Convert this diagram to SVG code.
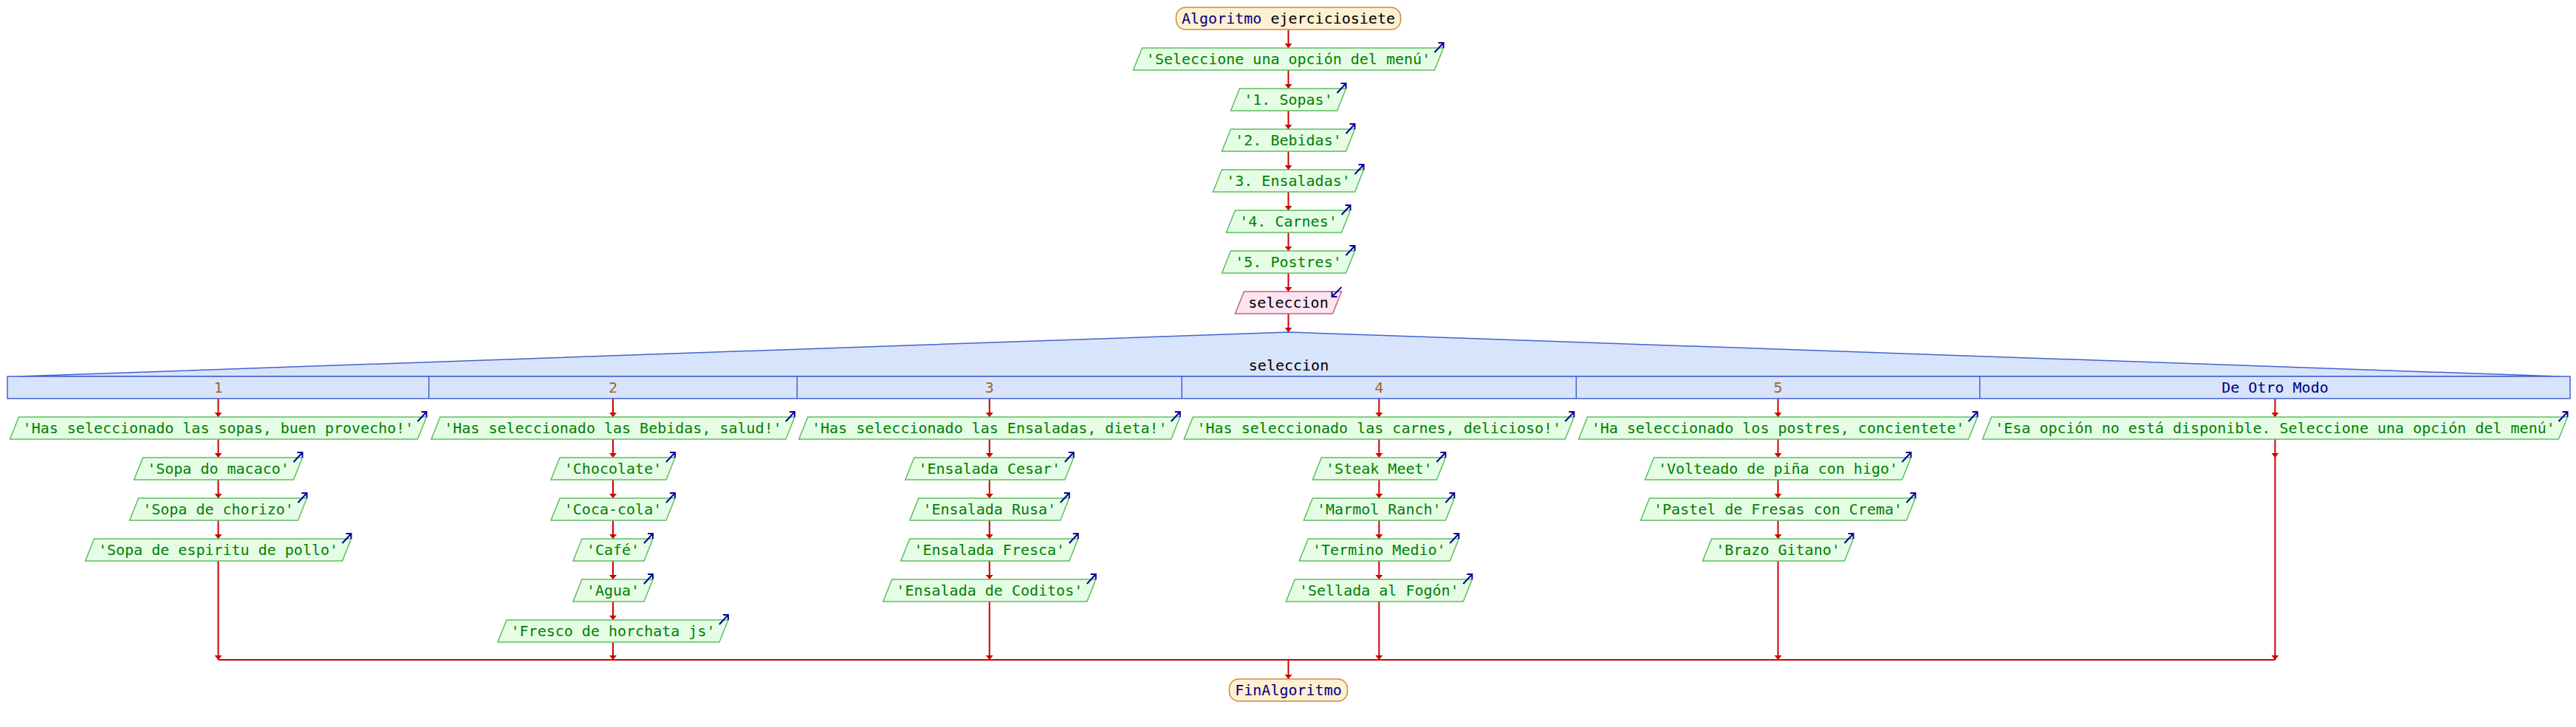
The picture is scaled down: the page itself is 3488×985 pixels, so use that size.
<svg xmlns="http://www.w3.org/2000/svg" width="3488" height="985" viewBox="0 0 3488 985">
<style>
text{font-family:"DejaVu Sans Mono","Liberation Mono",monospace;font-size:20px;text-anchor:middle}
.out polygon{fill:#e5fde5;stroke:#5cbf5c;stroke-width:1.5}
.out text{fill:#008000}
.inp polygon{fill:#ffe4f0;stroke:#c06080;stroke-width:1.5}
.inp text{fill:#000}
.term rect{fill:#fff0d4;stroke:#cc8a3a;stroke-width:1.5}
.kw{fill:#000080}
.ico{fill:none;stroke:#000099;stroke-width:2}
.sw{fill:#d8e4fc;stroke:#4362cf;stroke-width:1.5}
.sep{stroke:#4362cf;stroke-width:1.5}
.case{fill:#a06428}
.other{fill:#000080}
#connectors path{fill:none;stroke:#cc0000;stroke-width:2}
#connectors path.a{marker-end:url(#ah)}
</style>
<defs>
<marker id="ah" markerUnits="userSpaceOnUse" markerWidth="7" markerHeight="10" refX="6" refY="5" orient="auto">
<path d="M0,0 L6,5 L0,10 z" fill="#cc0000"/>
</marker>
</defs>
<rect width="3488" height="985" fill="#fff"/>

<g id="connectors">
<path class="a" d="M1744.5,40 V65"/>
<path class="a" d="M1744.5,95 V120"/>
<path class="a" d="M1744.5,150 V175"/>
<path class="a" d="M1744.5,205 V230"/>
<path class="a" d="M1744.5,260 V285"/>
<path class="a" d="M1744.5,315 V340"/>
<path class="a" d="M1744.5,370 V395"/>
<path class="a" d="M1744.5,425 V450"/>
<path class="a" d="M295.5,540 V565"/>
<path class="a" d="M295.5,595 V620"/>
<path class="a" d="M295.5,650 V675"/>
<path class="a" d="M295.5,705 V730"/>
<path class="a" d="M295.5,760 V894"/>
<path class="a" d="M830,540 V565"/>
<path class="a" d="M830,595 V620"/>
<path class="a" d="M830,650 V675"/>
<path class="a" d="M830,705 V730"/>
<path class="a" d="M830,760 V785"/>
<path class="a" d="M830,815 V840"/>
<path class="a" d="M830,870 V894"/>
<path class="a" d="M1339.8,540 V565"/>
<path class="a" d="M1339.8,595 V620"/>
<path class="a" d="M1339.8,650 V675"/>
<path class="a" d="M1339.8,705 V730"/>
<path class="a" d="M1339.8,760 V785"/>
<path class="a" d="M1339.8,815 V894"/>
<path class="a" d="M1867.3,540 V565"/>
<path class="a" d="M1867.3,595 V620"/>
<path class="a" d="M1867.3,650 V675"/>
<path class="a" d="M1867.3,705 V730"/>
<path class="a" d="M1867.3,760 V785"/>
<path class="a" d="M1867.3,815 V894"/>
<path class="a" d="M2407.5,540 V565"/>
<path class="a" d="M2407.5,595 V620"/>
<path class="a" d="M2407.5,650 V675"/>
<path class="a" d="M2407.5,705 V730"/>
<path class="a" d="M2407.5,760 V894"/>
<path class="a" d="M3080.5,540 V565"/>
<path class="a" d="M3080.5,595 V620"/>
<path class="a" d="M3080.5,620 V894"/>
<path d="M295.5,894 H3080.5"/>
<path class="a" d="M1744.5,894 V920"/>
</g>

<g id="start" class="term">
<rect x="1592.5" y="10" width="304" height="30" rx="13"/>
<text x="1744.5" y="32"><tspan class="kw">Algoritmo</tspan> ejerciciosiete</text>
</g>

<g id="m1" class="out"><polygon points="1546.5,65 1954.5,65 1942.5,95 1534.5,95"/><text x="1744.5" y="87">'Seleccione una opción del menú'</text><path class="ico" d="M1942.5,71 L1954.5,58 M1947.5,58 L1954.5,58 L1954.5,65"/></g>
<g id="m2" class="out"><polygon points="1678.5,120 1822.5,120 1810.5,150 1666.5,150"/><text x="1744.5" y="142">'1. Sopas'</text><path class="ico" d="M1810.5,126 L1822.5,113 M1815.5,113 L1822.5,113 L1822.5,120"/></g>
<g id="m3" class="out"><polygon points="1666.5,175 1834.5,175 1822.5,205 1654.5,205"/><text x="1744.5" y="197">'2. Bebidas'</text><path class="ico" d="M1822.5,181 L1834.5,168 M1827.5,168 L1834.5,168 L1834.5,175"/></g>
<g id="m4" class="out"><polygon points="1654.5,230 1846.5,230 1834.5,260 1642.5,260"/><text x="1744.5" y="252">'3. Ensaladas'</text><path class="ico" d="M1834.5,236 L1846.5,223 M1839.5,223 L1846.5,223 L1846.5,230"/></g>
<g id="m5" class="out"><polygon points="1672.5,285 1828.5,285 1816.5,315 1660.5,315"/><text x="1744.5" y="307">'4. Carnes'</text><path class="ico" d="M1816.5,291 L1828.5,278 M1821.5,278 L1828.5,278 L1828.5,285"/></g>
<g id="m6" class="out"><polygon points="1666.5,340 1834.5,340 1822.5,370 1654.5,370"/><text x="1744.5" y="362">'5. Postres'</text><path class="ico" d="M1822.5,346 L1834.5,333 M1827.5,333 L1834.5,333 L1834.5,340"/></g>
<g id="read" class="inp"><polygon points="1684.5,395 1816.5,395 1804.5,425 1672.5,425"/><text x="1744.5" y="417">seleccion</text><path class="ico" d="M1816.5,389 L1803.5,402 M1810.5,402 L1803.5,402 L1803.5,395"/></g>

<g id="switch">
<polygon class="sw" points="25,510 1745,450 3465,510"/>
<rect class="sw" x="10" y="510" width="3470" height="30"/>
<path class="sep" d="M580.7,510 V540 M1079.3,510 V540 M1600.3,510 V540 M2134.3,510 V540 M2680.7,510 V540"/>
<text x="1745" y="502">seleccion</text>
<text class="case" x="295.5" y="532">1</text>
<text class="case" x="830" y="532">2</text>
<text class="case" x="1339.8" y="532">3</text>
<text class="case" x="1867.3" y="532">4</text>
<text class="case" x="2407.5" y="532">5</text>
<text class="other" x="3080.5" y="532">De Otro Modo</text>
</g>

<g id="b1a" class="out"><polygon points="25.5,565 577.5,565 565.5,595 13.5,595"/><text x="295.5" y="587">'Has seleccionado las sopas, buen provecho!'</text><path class="ico" d="M565.5,571 L577.5,558 M570.5,558 L577.5,558 L577.5,565"/></g>
<g id="b1b" class="out"><polygon points="193.5,620 409.5,620 397.5,650 181.5,650"/><text x="295.5" y="642">'Sopa do macaco'</text><path class="ico" d="M397.5,626 L409.5,613 M402.5,613 L409.5,613 L409.5,620"/></g>
<g id="b1c" class="out"><polygon points="187.5,675 415.5,675 403.5,705 175.5,705"/><text x="295.5" y="697">'Sopa de chorizo'</text><path class="ico" d="M403.5,681 L415.5,668 M408.5,668 L415.5,668 L415.5,675"/></g>
<g id="b1d" class="out"><polygon points="127.5,730 475.5,730 463.5,760 115.5,760"/><text x="295.5" y="752">'Sopa de espiritu de pollo'</text><path class="ico" d="M463.5,736 L475.5,723 M468.5,723 L475.5,723 L475.5,730"/></g>

<g id="b2a" class="out"><polygon points="596,565 1076,565 1064,595 584,595"/><text x="830" y="587">'Has seleccionado las Bebidas, salud!'</text><path class="ico" d="M1064,571 L1076,558 M1069,558 L1076,558 L1076,565"/></g>
<g id="b2b" class="out"><polygon points="758,620 914,620 902,650 746,650"/><text x="830" y="642">'Chocolate'</text><path class="ico" d="M902,626 L914,613 M907,613 L914,613 L914,620"/></g>
<g id="b2c" class="out"><polygon points="758,675 914,675 902,705 746,705"/><text x="830" y="697">'Coca-cola'</text><path class="ico" d="M902,681 L914,668 M907,668 L914,668 L914,675"/></g>
<g id="b2d" class="out"><polygon points="788,730 884,730 872,760 776,760"/><text x="830" y="752">'Café'</text><path class="ico" d="M872,736 L884,723 M877,723 L884,723 L884,730"/></g>
<g id="b2e" class="out"><polygon points="788,785 884,785 872,815 776,815"/><text x="830" y="807">'Agua'</text><path class="ico" d="M872,791 L884,778 M877,778 L884,778 L884,785"/></g>
<g id="b2f" class="out"><polygon points="686,840 986,840 974,870 674,870"/><text x="830" y="862">'Fresco de horchata js'</text><path class="ico" d="M974,846 L986,833 M979,833 L986,833 L986,840"/></g>

<g id="b3a" class="out"><polygon points="1093.8,565 1597.8,565 1585.8,595 1081.8,595"/><text x="1339.8" y="587">'Has seleccionado las Ensaladas, dieta!'</text><path class="ico" d="M1585.8,571 L1597.8,558 M1590.8,558 L1597.8,558 L1597.8,565"/></g>
<g id="b3b" class="out"><polygon points="1237.8,620 1453.8,620 1441.8,650 1225.8,650"/><text x="1339.8" y="642">'Ensalada Cesar'</text><path class="ico" d="M1441.8,626 L1453.8,613 M1446.8,613 L1453.8,613 L1453.8,620"/></g>
<g id="b3c" class="out"><polygon points="1243.8,675 1447.8,675 1435.8,705 1231.8,705"/><text x="1339.8" y="697">'Ensalada Rusa'</text><path class="ico" d="M1435.8,681 L1447.8,668 M1440.8,668 L1447.8,668 L1447.8,675"/></g>
<g id="b3d" class="out"><polygon points="1231.8,730 1459.8,730 1447.8,760 1219.8,760"/><text x="1339.8" y="752">'Ensalada Fresca'</text><path class="ico" d="M1447.8,736 L1459.8,723 M1452.8,723 L1459.8,723 L1459.8,730"/></g>
<g id="b3e" class="out"><polygon points="1207.8,785 1483.8,785 1471.8,815 1195.8,815"/><text x="1339.8" y="807">'Ensalada de Coditos'</text><path class="ico" d="M1471.8,791 L1483.8,778 M1476.8,778 L1483.8,778 L1483.8,785"/></g>

<g id="b4a" class="out"><polygon points="1615.3,565 2131.3,565 2119.3,595 1603.3,595"/><text x="1867.3" y="587">'Has seleccionado las carnes, delicioso!'</text><path class="ico" d="M2119.3,571 L2131.3,558 M2124.3,558 L2131.3,558 L2131.3,565"/></g>
<g id="b4b" class="out"><polygon points="1789.3,620 1957.3,620 1945.3,650 1777.3,650"/><text x="1867.3" y="642">'Steak Meet'</text><path class="ico" d="M1945.3,626 L1957.3,613 M1950.3,613 L1957.3,613 L1957.3,620"/></g>
<g id="b4c" class="out"><polygon points="1777.3,675 1969.3,675 1957.3,705 1765.3,705"/><text x="1867.3" y="697">'Marmol Ranch'</text><path class="ico" d="M1957.3,681 L1969.3,668 M1962.3,668 L1969.3,668 L1969.3,675"/></g>
<g id="b4d" class="out"><polygon points="1771.3,730 1975.3,730 1963.3,760 1759.3,760"/><text x="1867.3" y="752">'Termino Medio'</text><path class="ico" d="M1963.3,736 L1975.3,723 M1968.3,723 L1975.3,723 L1975.3,730"/></g>
<g id="b4e" class="out"><polygon points="1753.3,785 1993.3,785 1981.3,815 1741.3,815"/><text x="1867.3" y="807">'Sellada al Fogón'</text><path class="ico" d="M1981.3,791 L1993.3,778 M1986.3,778 L1993.3,778 L1993.3,785"/></g>

<g id="b5a" class="out"><polygon points="2149.5,565 2677.5,565 2665.5,595 2137.5,595"/><text x="2407.5" y="587">'Ha seleccionado los postres, concientete'</text><path class="ico" d="M2665.5,571 L2677.5,558 M2670.5,558 L2677.5,558 L2677.5,565"/></g>
<g id="b5b" class="out"><polygon points="2239.5,620 2587.5,620 2575.5,650 2227.5,650"/><text x="2407.5" y="642">'Volteado de piña con higo'</text><path class="ico" d="M2575.5,626 L2587.5,613 M2580.5,613 L2587.5,613 L2587.5,620"/></g>
<g id="b5c" class="out"><polygon points="2233.5,675 2593.5,675 2581.5,705 2221.5,705"/><text x="2407.5" y="697">'Pastel de Fresas con Crema'</text><path class="ico" d="M2581.5,681 L2593.5,668 M2586.5,668 L2593.5,668 L2593.5,675"/></g>
<g id="b5d" class="out"><polygon points="2317.5,730 2509.5,730 2497.5,760 2305.5,760"/><text x="2407.5" y="752">'Brazo Gitano'</text><path class="ico" d="M2497.5,736 L2509.5,723 M2502.5,723 L2509.5,723 L2509.5,730"/></g>

<g id="b6a" class="out"><polygon points="2696.5,565 3476.5,565 3464.5,595 2684.5,595"/><text x="3080.5" y="587">'Esa opción no está disponible. Seleccione una opción del menú'</text><path class="ico" d="M3464.5,571 L3476.5,558 M3469.5,558 L3476.5,558 L3476.5,565"/></g>

<g id="end" class="term">
<rect x="1664.5" y="920" width="160" height="30" rx="13"/>
<text class="kw" x="1744.5" y="942">FinAlgoritmo</text>
</g>
</svg>
